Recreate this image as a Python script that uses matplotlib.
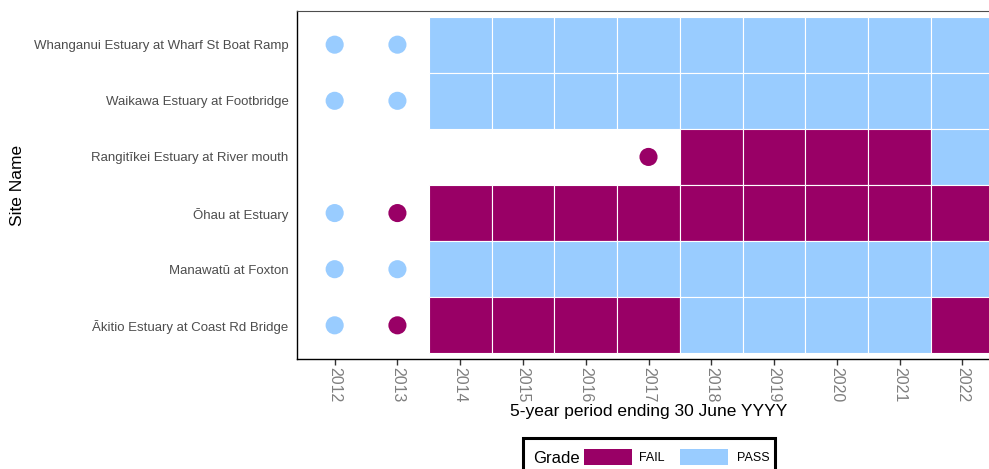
import matplotlib
matplotlib.use("Agg")
import matplotlib.pyplot as plt
from matplotlib.patches import Rectangle

plt.rcParams["font.family"] = ["Liberation Sans", "DejaVu Sans"]

sites = [
    "Whanganui Estuary at Wharf St Boat Ramp",
    "Waikawa Estuary at Footbridge",
    "Rangitīkei Estuary at River mouth",
    "Ōhau at Estuary",
    "Manawatū at Foxton",
    "Ākitio Estuary at Coast Rd Bridge",
]
years = [2012, 2013, 2014, 2015, 2016, 2017, 2018, 2019, 2020, 2021, 2022]

# Full-period grades (tiles); None = no grade
tile_grades = {
    "Whanganui Estuary at Wharf St Boat Ramp": [None, None, "PASS", "PASS", "PASS", "PASS", "PASS", "PASS", "PASS", "PASS", "PASS"],
    "Waikawa Estuary at Footbridge":           [None, None, "PASS", "PASS", "PASS", "PASS", "PASS", "PASS", "PASS", "PASS", "PASS"],
    "Rangitīkei Estuary at River mouth":       [None, None, None, None, None, None, "FAIL", "FAIL", "FAIL", "FAIL", "PASS"],
    "Ōhau at Estuary":                         [None, None, "FAIL", "FAIL", "FAIL", "FAIL", "FAIL", "FAIL", "FAIL", "FAIL", "FAIL"],
    "Manawatū at Foxton":                      [None, None, "PASS", "PASS", "PASS", "PASS", "PASS", "PASS", "PASS", "PASS", "PASS"],
    "Ākitio Estuary at Coast Rd Bridge":       [None, None, "FAIL", "FAIL", "FAIL", "FAIL", "PASS", "PASS", "PASS", "PASS", "FAIL"],
}

# Provisional grades (points)
dot_grades = {
    "Whanganui Estuary at Wharf St Boat Ramp": [(2012, "PASS"), (2013, "PASS")],
    "Waikawa Estuary at Footbridge":           [(2012, "PASS"), (2013, "PASS")],
    "Rangitīkei Estuary at River mouth":       [(2017, "FAIL")],
    "Ōhau at Estuary":                         [(2012, "PASS"), (2013, "FAIL")],
    "Manawatū at Foxton":                      [(2012, "PASS"), (2013, "PASS")],
    "Ākitio Estuary at Coast Rd Bridge":       [(2012, "PASS"), (2013, "FAIL")],
}

grade_colors = {"FAIL": "#990066", "PASS": "#99CCFF"}

W, H = 989, 469
fig = plt.figure(figsize=(W / 100, H / 100), dpi=100)
ax_w = 1000 - 297
ax = fig.add_axes([297 / W, 1 - 359 / H, ax_w / W, (359 - 11) / H])

for i, site in enumerate(sites):
    for yr, g in zip(years, tile_grades[site]):
        if g is None:
            continue
        ax.add_patch(Rectangle((yr - 0.5, i - 0.5), 1, 1, facecolor=grade_colors[g],
                               edgecolor="white", linewidth=0.8, zorder=1))
    for yr, g in dot_grades[site]:
        ax.scatter(yr, i, s=170, color=grade_colors[g], edgecolors="none", zorder=3)

ax.set_xlim(years[0] - 0.6, years[-1] + 0.6)
ax.set_ylim(len(sites) - 0.4, -0.6)

ax.set_xticks(years)
ax.set_xticklabels([str(y) for y in years], rotation=270, fontsize=11.5, color="#7f7f7f")
ax.set_yticks(range(len(sites)))
ax.set_yticklabels(sites, fontsize=9.5, color="#4d4d4d")
ax.tick_params(axis="x", length=4, width=1, color="#333333", pad=2)
ax.tick_params(axis="y", length=0, pad=6)

for side in ["left", "bottom"]:
    ax.spines[side].set_color("black")
    ax.spines[side].set_linewidth(1.0)
ax.spines["top"].set_color("#4d4d4d")
ax.spines["top"].set_linewidth(0.8)
ax.spines["right"].set_visible(False)

ax.set_xlabel("5-year period ending 30 June YYYY", fontsize=12.5, color="black", labelpad=1)
ax.set_ylabel("Site Name", fontsize=12.5, color="black")
ax.yaxis.set_label_coords(-272 / ax_w, 0.5)

# Legend box along the bottom edge
def fx(px):
    return px / W

def fy(py):
    return 1 - py / H

fig.patches.append(Rectangle((fx(523), fy(480)), fx(775) - fx(523), fy(438) - fy(480),
                             transform=fig.transFigure, facecolor="white",
                             edgecolor="black", linewidth=2.2, zorder=5))
fig.text(fx(533), fy(458), "Grade", fontsize=12, va="center", ha="left", zorder=6)
fig.patches.append(Rectangle((fx(584), fy(465)), fx(632) - fx(584), fy(449) - fy(465),
                             transform=fig.transFigure, facecolor=grade_colors["FAIL"],
                             edgecolor="none", zorder=6))
fig.text(fx(639), fy(458), "FAIL", fontsize=9, va="center", ha="left", zorder=6)
fig.patches.append(Rectangle((fx(680), fy(465)), fx(728) - fx(680), fy(449) - fy(465),
                             transform=fig.transFigure, facecolor=grade_colors["PASS"],
                             edgecolor="none", zorder=6))
fig.text(fx(737), fy(458), "PASS", fontsize=9, va="center", ha="left", zorder=6)

fig.savefig("out.png", dpi=100)
